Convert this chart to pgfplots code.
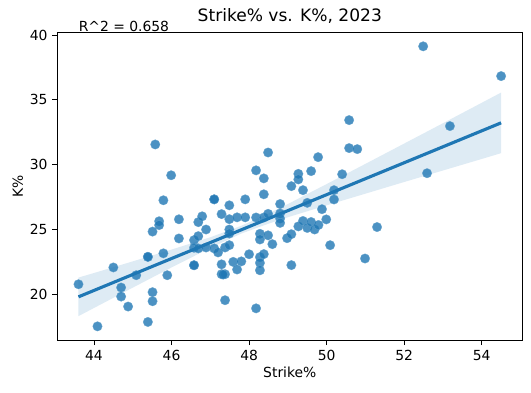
\documentclass[border=0pt]{standalone}
\usepackage{pgfplots}
\pgfplotsset{compat=1.18}
\usepackage{fontspec}
\setmainfont{DejaVu Sans}
\usepgfplotslibrary{fillbetween}
\definecolor{mplblue}{HTML}{1F77B4}
\begin{document}
\begin{tikzpicture}
\begin{axis}[
  at={(0,0)}, anchor=south west,
  scale only axis,
  width=334.8pt, height=221.8pt,
  xmin=43.055, xmax=55.045,
  ymin=16.42, ymax=40.21,
  xtick={44,46,48,50,52,54},
  ytick={20,25,30,35,40},
  tick align=outside,
  major tick length=3.5pt,
  tick style={black, line width=0.6pt},
  axis line style={line width=0.6pt},
  xtick pos=lower, ytick pos=left,
  /pgf/number format/assume math mode=true,
  ticklabel style={font=\fontsize{10}{12}\selectfont},
  xlabel={Strike\%}, ylabel={K\%},
  label style={font=\fontsize{10}{12}\selectfont},
  xlabel style={yshift=2pt},
  ylabel style={yshift=-2pt},
  title={Strike\% vs. K\%, 2023},
  title style={font=\fontsize{12.3}{14}\selectfont, yshift=-3pt},
  clip mode=individual,
]
\addplot[name path=upper, draw=none, forget plot] coordinates {
(43.6,21.27) (44,21.62) (45,22.52) (46,23.43) (47,24.38) (47.8,25.27) (48.5,26.21) (49,26.95) (50,28.49) (51,30.05) (52,31.62) (53,33.19) (54,34.77) (54.5,35.56)};
\addplot[name path=lower, draw=none, forget plot] coordinates {
(43.6,18.29) (44,18.92) (45,20.49) (46,22.05) (47,23.56) (47.8,24.67) (48.5,25.43) (49,25.93) (50,26.85) (51,27.75) (52,28.65) (53,29.54) (54,30.43) (54.5,30.88)};
\addplot[fill=mplblue, fill opacity=0.15, draw=none] fill between[of=upper and lower];
\addplot[mplblue, only marks, mark=*, mark size=3.4pt, mark options={fill=mplblue, draw=mplblue!70!white, line width=0.3pt, opacity=0.8}] table {
x y
43.60 20.75
44.09 17.50
44.50 22.05
44.70 20.50
44.70 19.80
44.88 19.03
45.09 21.45
45.39 22.87
45.39 22.87
45.39 17.84
45.51 20.14
45.51 19.44
45.51 24.82
45.58 31.55
45.68 25.62
45.68 25.32
45.79 27.24
45.79 23.14
45.89 21.45
45.99 29.17
46.19 25.77
46.19 24.29
46.58 22.22
46.58 22.22
46.58 24.16
46.58 23.57
46.69 24.47
46.69 25.55
46.69 23.52
46.79 26.00
46.89 24.98
46.89 23.59
47.10 27.31
47.10 27.31
47.10 23.52
47.20 23.21
47.29 26.17
47.29 22.29
47.29 21.53
47.38 21.53
47.33 21.50
47.38 19.52
47.38 23.59
47.49 23.77
47.49 26.85
47.49 25.78
47.49 24.98
47.49 24.67
47.59 22.48
47.69 25.92
47.69 21.89
47.80 22.52
47.90 27.31
47.90 25.92
48.00 23.07
48.18 29.55
48.18 25.91
48.18 18.89
48.28 24.65
48.28 24.21
48.28 22.85
48.28 22.40
48.28 21.83
48.38 28.93
48.38 27.70
48.38 25.91
48.38 23.08
48.49 30.93
48.49 26.19
48.49 24.53
48.60 23.85
48.80 26.95
48.80 26.22
48.80 25.83
48.80 25.49
48.98 24.31
49.09 24.62
49.09 28.33
49.09 22.23
49.27 29.28
49.27 28.85
49.27 25.22
49.39 28.02
49.39 25.64
49.50 27.04
49.50 25.10
49.60 29.49
49.60 25.56
49.69 24.98
49.78 30.57
49.79 25.33
49.88 26.55
49.99 25.76
50.09 23.77
50.19 28.02
50.19 27.30
50.40 29.25
50.58 33.43
50.58 31.27
50.79 31.19
50.99 22.74
51.30 25.17
52.49 39.13
52.59 29.33
53.18 32.97
54.50 36.83
};
\addplot[mplblue, line width=2.25pt] coordinates {(43.6,19.78) (54.5,33.22)};
\node[anchor=base west, font=\fontsize{10}{12}\selectfont, inner sep=0pt] at (axis cs:43.6,40.3) {R\textasciicircum 2 = 0.658};
\end{axis}
\pgfresetboundingbox
\useasboundingbox (-41.3pt,-37.9pt) rectangle (341.1pt,245.1pt);
\end{tikzpicture}
\end{document}
